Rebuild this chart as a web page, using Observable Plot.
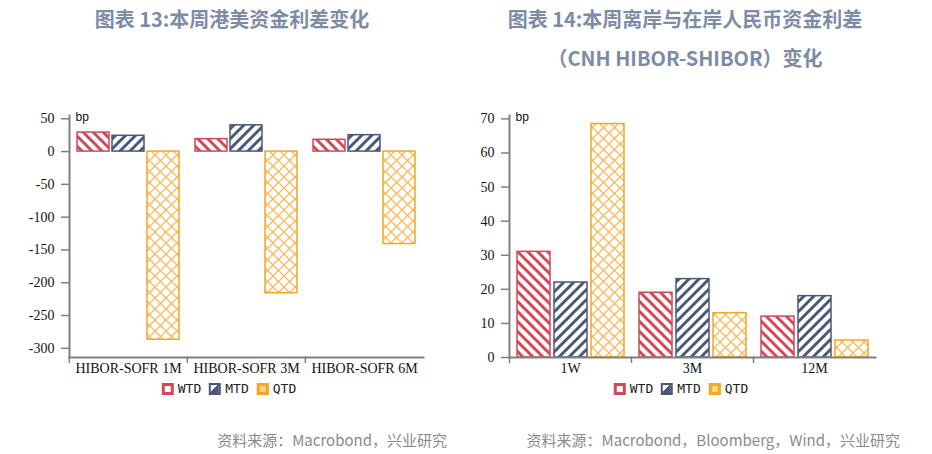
<!DOCTYPE html>
<html><head><meta charset="utf-8">
<script src="https://cdn.jsdelivr.net/npm/d3@7"></script>
<script src="https://cdn.jsdelivr.net/npm/@observablehq/plot@0.6"></script>
<style>
body{margin:0;background:#fff;width:932px;height:454px;position:relative;overflow:hidden;font-family:"Noto Sans CJK SC",sans-serif}
.title{position:absolute;color:#7d8ca6;font-weight:700;font-size:20px;line-height:24px;white-space:nowrap;transform:translateX(-50%)}
.src{position:absolute;color:#8a8a8a;font-size:15px;line-height:22px;white-space:nowrap}
.chart{position:absolute;top:100px}
.legend{position:absolute;top:382px;transform:translateX(-50%);display:flex;align-items:center;font-family:"DejaVu Sans Mono","Liberation Mono",monospace;font-size:13px;line-height:14px;color:#222;white-space:nowrap}
.item{display:flex;align-items:center;margin-right:8px}
.sw{width:12px;height:12px;box-sizing:border-box;margin-right:4px}
</style>
</head>
<body>
<div class="title" style="left:232px;top:7px">图表 13:本周港美资金利差变化</div>
<div class="title" style="left:685px;top:7px">图表 14:本周离岸与在岸人民币资金利差</div>
<div class="title" style="left:685px;top:46px">（CNH HIBOR-SHIBOR）变化</div>
<div id="left" class="chart" style="left:0"></div>
<div id="right" class="chart" style="left:466px"></div>
<div class="legend" id="legL" style="left:233px"></div>
<div class="legend" id="legR" style="left:685px"></div>
<div class="src" style="right:485px;top:429px">资料来源：Macrobond，兴业研究</div>
<div class="src" style="right:32px;top:429px">资料来源：Macrobond，Bloomberg，Wind，兴业研究</div>
<script>
// ---- data ----
const seriesNames = ["WTD", "MTD", "QTD"];
const colors = ["#d0485a", "#4a5878", "#f5a623"];

const groupsL = ["HIBOR-SOFR 1M", "HIBOR-SOFR 3M", "HIBOR-SOFR 6M"];
const wtdL = [29, 19, 18];
const mtdL = [24, 40, 25];
const qtdL = [-287, -216, -141];
const ticksL = [50, 0, -50, -100, -150, -200, -250, -300];

const groupsR = ["1W", "3M", "12M"];
const wtdR = [31, 19, 12];
const mtdR = [22, 23, 18];
const qtdR = [68.5, 13, 5];
const ticksR = [0, 10, 20, 30, 40, 50, 60, 70];

function addPatterns(svg, id) {
  const defs = d3.select(svg).insert("defs", ":first-child");
  const mk = (name, size) => {
    const p = defs.append("pattern").attr("id", `${id}-${name}`)
      .attr("patternUnits", "userSpaceOnUse").attr("width", size).attr("height", size);
    p.append("rect").attr("width", size).attr("height", size).attr("fill", "#fff");
    return p;
  };
  mk("WTD", 10).append("path").attr("d", "M-3,7 L3,13 M0,0 L10,10 M7,-3 L13,3")
    .attr("stroke", colors[0]).attr("stroke-width", 3).attr("fill", "none");
  mk("MTD", 10).append("path").attr("d", "M-3,3 L3,-3 M0,10 L10,0 M7,13 L13,7")
    .attr("stroke", colors[1]).attr("stroke-width", 3).attr("fill", "none");
  mk("QTD", 11).append("path").attr("d", "M0,0 L11,11 M11,0 L0,11")
    .attr("stroke", "#f7bb5e").attr("stroke-width", 1.3).attr("fill", "none");
}

function makeChart(o) {
  const rows = [];
  o.groups.forEach((g, i) => seriesNames.forEach((s, j) => rows.push({g, s, v: o.values[j][i]})));
  const W = 466, H = 300;
  const step = (W - o.ml - o.mr) / o.groups.length;
  const plot = Plot.plot({
    width: W, height: H,
    marginLeft: o.ml, marginRight: o.mr, marginTop: 15, marginBottom: 43,
    style: {fontFamily: "'Liberation Serif', serif", fontSize: "14px", color: "#111", background: "transparent", overflow: "visible"},
    fx: {domain: o.groups, padding: 0, label: null},
    x: {domain: seriesNames, paddingInner: o.pi, paddingOuter: o.po, axis: null},
    y: {domain: o.yDomain, label: null},
    marks: [
      Plot.barY(rows, {
        fx: "g", x: "s", y: "v",
        fill: d => `url(#${o.id}-${d.s})`,
        stroke: d => colors[seriesNames.indexOf(d.s)],
        strokeWidth: 1.5
      }),
      Plot.axisY({ticks: o.yTicks, tickSize: 8, tickPadding: 7, tickFormat: d => String(d), stroke: "#808080", strokeWidth: 1.5, fill: "#111", label: null}),
      Plot.axisFx({anchor: "bottom", tickSize: 0, tickPadding: 6, label: null, fill: "#111"}),
      Plot.axisFx({anchor: "bottom", tickSize: 6, fill: "none", dx: -step / 2, label: null, stroke: "#808080", strokeWidth: 1.5, tickFormat: () => ""}),
      Plot.frame({anchor: "left", facetAnchor: "left", stroke: "#808080", strokeWidth: 2}),
      Plot.frame({anchor: "bottom", stroke: "#808080", strokeWidth: 2}),
      Plot.text(["bp"], {text: d => d, frameAnchor: "top-left", dx: 6, dy: -3, lineAnchor: "top", textAnchor: "start", facetAnchor: "left", fontFamily: "'Liberation Sans', sans-serif", fontSize: 12, fill: "#111"})
    ]
  });
  const svg = plot.tagName.toLowerCase() === "svg" ? plot : plot.querySelector("svg");
  addPatterns(svg, o.id);
  document.getElementById(o.id).appendChild(plot);
}

makeChart({id: "left", groups: groupsL, values: [wtdL, mtdL, qtdL], yDomain: [-314, 55], yTicks: ticksL, ml: 68, mr: 43, pi: 0.1, po: 0.22});
makeChart({id: "right", groups: groupsR, values: [wtdR, mtdR, qtdR], yDomain: [0, 71], yTicks: ticksR, ml: 43, mr: 57, pi: 0.11, po: 0.2});

function legend(elId) {
  const el = document.getElementById(elId);
  const styles = [
    `border:3px solid ${colors[0]};background:#fff`,
    `border:2px solid ${colors[1]};background:linear-gradient(135deg,#fff 0 45%,${colors[1]} 45%)`,
    `border:3px solid ${colors[2]};background:#fcd690`
  ];
  seriesNames.forEach((s, i) => {
    const it = document.createElement("div");
    it.className = "item";
    it.innerHTML = `<span class="sw" style="${styles[i]}"></span><span>${s}</span>`;
    el.appendChild(it);
  });
}
legend("legL");
legend("legR");
</script>
</body></html>
